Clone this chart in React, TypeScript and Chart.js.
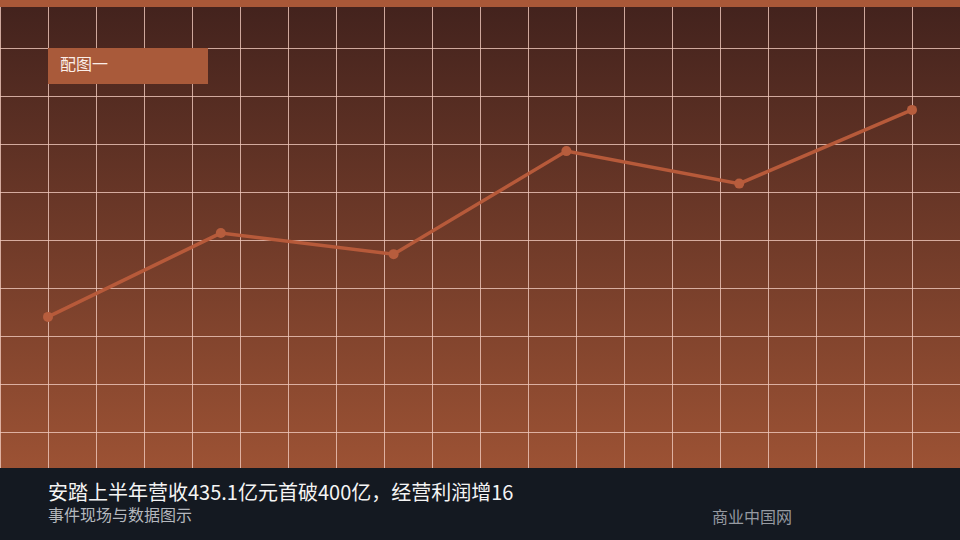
import React, { useEffect, useRef } from 'react'
import { Chart, registerables } from 'chart.js'

Chart.register(...registerables)

const categories = ['1', '2', '3', '4', '5', '6']
const values = [31.9, 50.2, 45.6, 68.1, 61.0, 77.1]

const title = '安踏上半年营收435.1亿元首破400亿，经营利润增16'
const subtitle = '事件现场与数据图示'
const source = '商业中国网'
const badge = '配图一'

const FONT = '"Noto Sans CJK SC", "Noto Sans", sans-serif'

function LineChart() {
    const canvasRef = useRef<HTMLCanvasElement>(null)

    useEffect(() => {
        if (!canvasRef.current) return
        const chart = new Chart(canvasRef.current, {
            type: 'line',
            data: {
                labels: categories,
                datasets: [{
                    data: values,
                    borderColor: '#b75a3a',
                    backgroundColor: '#b75d3d',
                    borderWidth: 3.5,
                    pointRadius: 5,
                    pointHoverRadius: 5,
                    pointBorderWidth: 0,
                    tension: 0,
                    fill: false
                }]
            },
            options: {
                animation: false,
                responsive: false,
                maintainAspectRatio: false,
                layout: { padding: { left: 48, right: 48, top: 0, bottom: 0 } },
                plugins: {
                    legend: { display: false },
                    tooltip: { enabled: false }
                },
                scales: {
                    x: { display: false, offset: false },
                    y: { display: false, min: 0, max: 100 }
                }
            }
        })
        return () => chart.destroy()
    }, [])

    return <canvas ref={canvasRef} width={960} height={468} style={{ position: 'absolute', left: 0, top: 0 }} />
}

export default function App() {
    useEffect(() => {
        document.body.style.margin = '0'
    }, [])

    const gridColor = 'rgba(240, 200, 188, 0.8)'

    return (
        <div style={{ position: 'relative', width: 960, height: 540, overflow: 'hidden', fontFamily: FONT }}>
            <div style={{
                position: 'absolute', left: 0, top: 0, width: 960, height: 468,
                background: 'linear-gradient(to bottom, #42221d, #9c5234)'
            }} />
            <div style={{
                position: 'absolute', left: 0, top: 0, width: 960, height: 468,
                backgroundImage: `linear-gradient(to right, ${gridColor} 1px, transparent 1px), linear-gradient(to bottom, ${gridColor} 1px, transparent 1px)`,
                backgroundSize: '48px 48px',
                backgroundPosition: '0 0'
            }} />
            <div style={{ position: 'absolute', left: 0, top: 0, width: 960, height: 7, background: '#a95838' }} />
            <div style={{
                position: 'absolute', left: 48, top: 48, width: 160, height: 36,
                background: '#a95a3a', color: '#fbeee8', fontSize: 16,
                lineHeight: '30px', paddingLeft: 12, boxSizing: 'border-box', whiteSpace: 'nowrap'
            }}>{badge}</div>
            <LineChart />
            <div style={{ position: 'absolute', left: 0, top: 468, width: 960, height: 72, background: '#141921' }}>
                <div style={{ position: 'absolute', left: 48, top: 10, fontSize: 20, lineHeight: '28px', color: '#f4f4f4', whiteSpace: 'nowrap' }}>{title}</div>
                <div style={{ position: 'absolute', left: 48, top: 35, fontSize: 16, lineHeight: '22px', color: '#b4b8be', whiteSpace: 'nowrap' }}>{subtitle}</div>
                <div style={{ position: 'absolute', left: 712, top: 37, fontSize: 16, lineHeight: '22px', color: '#969aa1', whiteSpace: 'nowrap' }}>{source}</div>
            </div>
        </div>
    )
}
